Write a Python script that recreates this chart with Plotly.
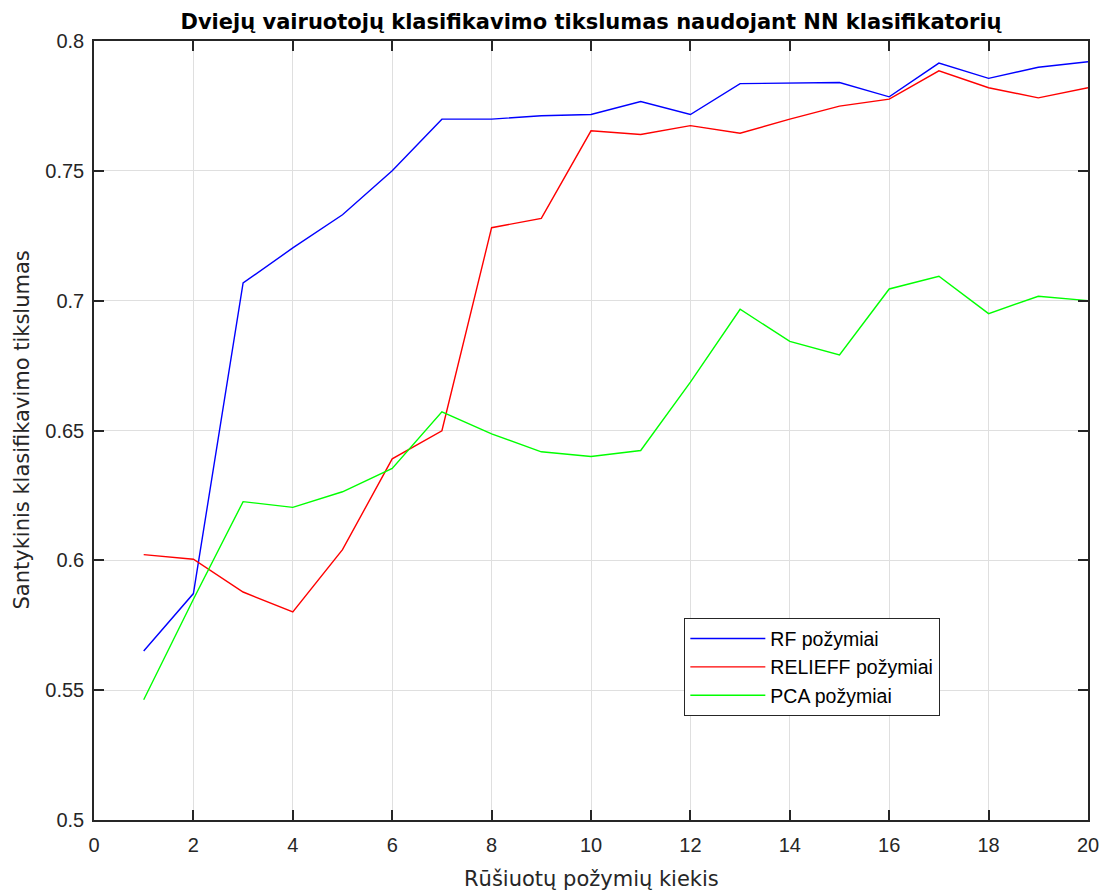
import plotly.graph_objects as go

x_vals = list(range(1, 21))
rf = [0.5651, 0.5872, 0.7068, 0.7203, 0.7331, 0.7500, 0.7699, 0.7699, 0.7712, 0.7717,
      0.7767, 0.7717, 0.7836, 0.7837, 0.7840, 0.7785, 0.7915, 0.7856, 0.7899, 0.7920]
relieff = [0.6022, 0.6004, 0.5878, 0.5801, 0.6041, 0.6391, 0.6499, 0.7281, 0.7317, 0.7654,
           0.7640, 0.7674, 0.7645, 0.7699, 0.7749, 0.7776, 0.7885, 0.7820, 0.7781, 0.7820]
pca = [0.5463, 0.5850, 0.6226, 0.6204, 0.6264, 0.6354, 0.6572, 0.6487, 0.6418, 0.6400,
       0.6423, 0.6686, 0.6967, 0.6843, 0.6791, 0.7045, 0.7094, 0.6950, 0.7017, 0.7000]

series_names = ["RF požymiai", "RELIEFF požymiai", "PCA požymiai"]
series_colors = ["#0000ff", "#ff0000", "#00ff00"]

x_ticks = list(range(0, 21, 2))
y_ticks = [0.5, 0.55, 0.6, 0.65, 0.7, 0.75, 0.8]
y_ticktext = ["0.5", "0.55", "0.6", "0.65", "0.7", "0.75", "0.8"]

title_text = "Dviejų vairuotojų klasifikavimo tikslumas naudojant NN klasifikatorių"
x_title = "Rūšiuotų požymių kiekis"
y_title = "Santykinis klasifikavimo tikslumas"

FONT = "Liberation Sans, Arial, sans-serif"
WIDE = "DejaVu Sans, sans-serif"

fig = go.Figure()
for name, vals, col in zip(series_names, [rf, relieff, pca], series_colors):
    fig.add_trace(go.Scatter(x=x_vals, y=vals, mode="lines", name=name,
                             line=dict(color=col, width=1.4)))

axis_common = dict(
    showline=True, linecolor="#262626", linewidth=1.5, mirror="ticks",
    ticks="inside", ticklen=10, tickwidth=1.5, tickcolor="#262626",
    showgrid=True, gridcolor="#dfdfdf", gridwidth=1.3, zeroline=False,
    automargin=False,
    tickfont=dict(family=FONT, size=20, color="#262626"),
)

fig.update_layout(
    width=1109, height=890,
    margin=dict(l=94, r=21, t=41, b=70),
    paper_bgcolor="white", plot_bgcolor="white",
    title=dict(text="<b>" + title_text + "</b>", x=0.5, xref="paper", xanchor="center",
               y=1, yref="paper", yanchor="bottom", pad=dict(b=12),
               font=dict(family=WIDE, size=21, color="black")),
    xaxis=dict(range=[0, 20], tickvals=x_ticks, ticklabelstandoff=6, **axis_common),
    yaxis=dict(range=[0.5, 0.8], tickvals=y_ticks, ticktext=y_ticktext,
               ticklabelstandoff=4, **axis_common),
    legend=dict(x=0.5936, y=0.2593, xanchor="left", yanchor="top",
                bgcolor="white", bordercolor="#262626", borderwidth=1.3,
                font=dict(family=FONT, size=19.5, color="black"),
                tracegroupgap=0, itemwidth=75),
    showlegend=True,
    annotations=[
        dict(text=x_title, xref="paper", yref="paper", x=0.5, y=0,
             xanchor="center", yanchor="middle", yshift=-59, showarrow=False,
             font=dict(family=WIDE, size=21, color="#262626")),
        dict(text=y_title, xref="paper", yref="paper", x=0, y=0.5,
             xanchor="center", yanchor="middle", xshift=-73, textangle=-90,
             showarrow=False, font=dict(family=WIDE, size=21, color="#262626")),
    ],
)

fig.write_html("out.html")
